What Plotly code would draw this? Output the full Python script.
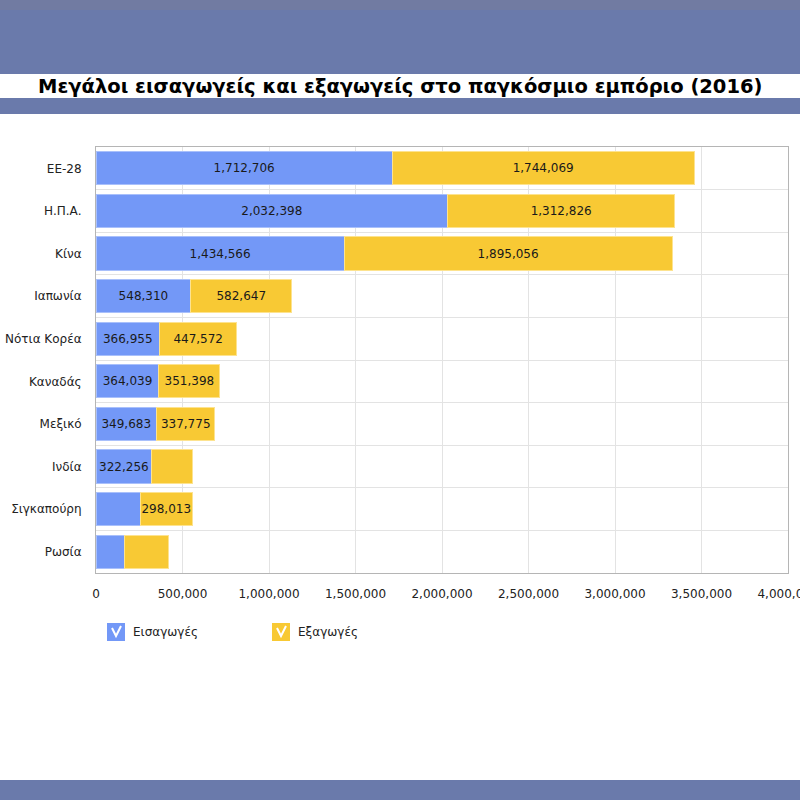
import plotly.graph_objects as go

# data (EUR million, 2016)
countries = ["ΕΕ-28", "Η.Π.Α.", "Κίνα", "Ιαπωνία", "Νότια Κορέα",
             "Καναδάς", "Μεξικό", "Ινδία", "Σιγκαπούρη", "Ρωσία"]
imports = [1712706, 2032398, 1434566, 548310, 366955,
           364039, 349683, 322256, 257000, 166000]
exports = [1744069, 1312826, 1895056, 582647, 447572,
           351398, 337775, 235000, 298013, 255000]
x_ticks = [0, 500000, 1000000, 1500000, 2000000, 2500000, 3000000, 3500000, 4000000]

blue = "#7398f7"
yellow = "#f8c934"
band = "#6a7aab"

# plot area in pixels
L, R, T, B = 96, 788, 147, 573


def px(x):
    return (x - L) / (R - L)


def py(y):
    return (B - y) / (B - T)


def lab(vals):
    # small bars have no label in the original
    return [f"{v:,}" if v > 280000 else "" for v in vals]


fig = go.Figure()
fig.add_trace(go.Bar(y=countries, x=imports, orientation="h", name="Εισαγωγές",
                     marker=dict(color=blue, line=dict(color="#a9c0fb", width=1)),
                     text=lab(imports), textposition="inside", insidetextanchor="middle",
                     constraintext="none",
                     insidetextfont=dict(color="#1a1a1a", size=12, family="DejaVu Sans")))
fig.add_trace(go.Bar(y=countries, x=exports, orientation="h", name="Εξαγωγές",
                     marker=dict(color=yellow, line=dict(color="#fde38f", width=1)),
                     text=lab(exports), textposition="inside", insidetextanchor="middle",
                     constraintext="none",
                     insidetextfont=dict(color="#1a1a1a", size=12, family="DejaVu Sans")))

shapes = [
    dict(type="rect", xref="paper", yref="paper", x0=px(0), x1=px(800), y0=py(0), y1=py(74),
         fillcolor=band, line_width=0, layer="below"),
    dict(type="rect", xref="paper", yref="paper", x0=px(0), x1=px(800), y0=py(0), y1=py(10),
         fillcolor="#717ba2", line_width=0, layer="below"),
    dict(type="rect", xref="paper", yref="paper", x0=px(0), x1=px(800), y0=py(98), y1=py(114),
         fillcolor=band, line_width=0, layer="below"),
    dict(type="rect", xref="paper", yref="paper", x0=px(0), x1=px(800), y0=py(780), y1=py(800),
         fillcolor=band, line_width=0, layer="below"),
]

# legend drawn by hand (square swatch with a white tick)
annotations = [
    dict(text="<b>Μεγάλοι εισαγωγείς και εξαγωγείς στο παγκόσμιο εμπόριο (2016)</b>",
         xref="paper", yref="paper", x=px(400), y=py(86), showarrow=False,
         xanchor="center", yanchor="middle",
         font=dict(family="DejaVu Sans", size=19.5, color="#000000")),
]
for x0, color, name in [(107, blue, "Εισαγωγές"), (272, yellow, "Εξαγωγές")]:
    shapes.append(dict(type="rect", xref="paper", yref="paper",
                       x0=px(x0), x1=px(x0 + 18), y0=py(623), y1=py(641),
                       fillcolor=color, line_width=0))
    shapes.append(dict(type="path", xref="paper", yref="paper",
                       path=f"M {px(x0 + 5)},{py(628)} L {px(x0 + 9)},{py(636)} L {px(x0 + 14)},{py(626)}",
                       line=dict(color="white", width=2)))
    annotations.append(dict(text=name, xref="paper", yref="paper", x=px(x0 + 24), y=py(632),
                            showarrow=False, xanchor="left", yanchor="middle",
                            font=dict(family="DejaVu Sans", size=12, color="#222222")))

fig.update_layout(
    barmode="stack",
    bargap=0.22,
    width=800, height=800, autosize=False,
    margin=dict(l=L, r=800 - R, t=T, b=800 - B, pad=0),
    paper_bgcolor="white",
    plot_bgcolor="white",
    showlegend=False,
    shapes=shapes,
    annotations=annotations,
    font=dict(family="DejaVu Sans", size=12, color="#222222"),
    xaxis=dict(range=[0, 4000000], tickvals=x_ticks, tickformat=",d",
               showgrid=True, gridcolor="#e3e3e3", zeroline=False,
               showline=True, linecolor="#b5b5b5", mirror=True, ticks="",
               ticklen=0, ticklabelstandoff=10, automargin=False, ticklabeloverflow="allow",
               tickfont=dict(size=12, color="#222222")),
    yaxis=dict(autorange="reversed", tickson="boundaries", showgrid=True,
               gridcolor="#e3e3e3", showline=True, linecolor="#b5b5b5", mirror=True,
               ticks="", ticklabelstandoff=11, automargin=False,
               tickfont=dict(size=12, color="#222222")),
)

fig.write_html("out.html", config={"displayModeBar": False},
               post_script="document.body.style.margin='0';")
